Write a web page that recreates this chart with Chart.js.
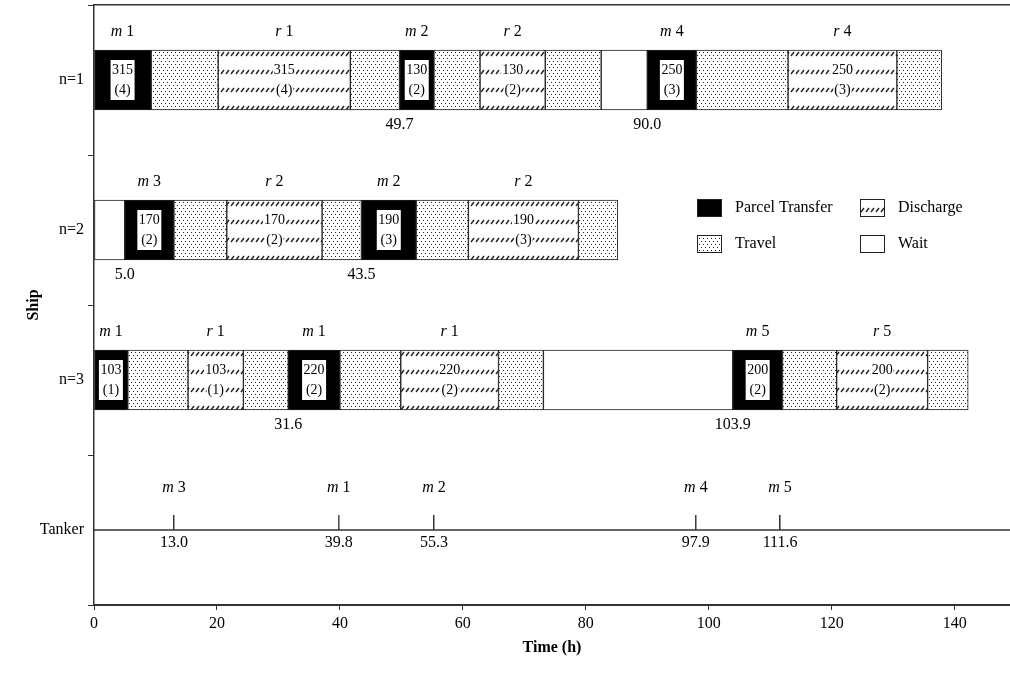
<!DOCTYPE html>
<html>
<head>
<meta charset="utf-8">
<title>Ship schedule</title>
<script src="https://cdn.jsdelivr.net/npm/chart.js@4.4.1/dist/chart.umd.min.js"></script>
<style>
  html, body { margin: 0; padding: 0; background: #fff; }
  canvas { display: block; }
</style>
</head>
<body>
<canvas id="chart" width="1010" height="673"></canvas>
<script>
const rowLabels = ['n=1', 'n=2', 'n=3', 'Tanker'];
const xTicks = [0, 20, 40, 60, 80, 100, 120, 140];
const xMax = 149;

// activity codes: P = parcel transfer, T = travel, D = discharge, W = wait
const ship1Bounds = [0, 9.3, 20.2, 41.7, 49.7, 55.3, 62.8, 73.4, 82.5, 90.0, 98.0, 112.9, 130.6, 137.9];
const ship1Acts = ['P', 'T', 'D', 'T', 'P', 'T', 'D', 'T', 'W', 'P', 'T', 'D', 'T'];
const ship1Tags = ['m 1', '', 'r 1', '', 'm 2', '', 'r 2', '', '', 'm 4', '', 'r 4', ''];
const ship1Loads = [315, null, 315, null, 130, null, 130, null, null, 250, null, 250, null];
const ship1Parcels = [4, null, 4, null, 2, null, 2, null, null, 3, null, 3, null];
const ship1Marks = [49.7, 90.0];

const ship2Bounds = [0, 5.0, 13.0, 21.6, 37.1, 43.5, 52.4, 60.9, 78.8, 85.2];
const ship2Acts = ['W', 'P', 'T', 'D', 'T', 'P', 'T', 'D', 'T'];
const ship2Tags = ['', 'm 3', '', 'r 2', '', 'm 2', '', 'r 2', ''];
const ship2Loads = [null, 170, null, 170, null, 190, null, 190, null];
const ship2Parcels = [null, 2, null, 2, null, 3, null, 3, null];
const ship2Marks = [5.0, 43.5];

const ship3Bounds = [0, 5.5, 15.3, 24.3, 31.6, 40.0, 49.9, 65.8, 73.1, 103.9, 112.0, 120.8, 135.6, 142.2];
const ship3Acts = ['P', 'T', 'D', 'T', 'P', 'T', 'D', 'T', 'W', 'P', 'T', 'D', 'T'];
const ship3Tags = ['m 1', '', 'r 1', '', 'm 1', '', 'r 1', '', '', 'm 5', '', 'r 5', ''];
const ship3Loads = [103, null, 103, null, 220, null, 220, null, null, 200, null, 200, null];
const ship3Parcels = [1, null, 1, null, 2, null, 2, null, null, 2, null, 2, null];
const ship3Marks = [31.6, 103.9];

const tankerTimes = [13.0, 39.8, 55.3, 97.9, 111.6];
const tankerTags = ['m 3', 'm 1', 'm 2', 'm 4', 'm 5'];

const ships = [
    { bounds: ship1Bounds, acts: ship1Acts, tags: ship1Tags, loads: ship1Loads, parcels: ship1Parcels, marks: ship1Marks },
    { bounds: ship2Bounds, acts: ship2Acts, tags: ship2Tags, loads: ship2Loads, parcels: ship2Parcels, marks: ship2Marks },
    { bounds: ship3Bounds, acts: ship3Acts, tags: ship3Tags, loads: ship3Loads, parcels: ship3Parcels, marks: ship3Marks }
];

const BAR = 60;
const serif = '"Liberation Serif", "Times New Roman", serif';
Chart.defaults.font.family = serif;
Chart.defaults.color = '#000';

// --- fill patterns ---
function makeTile(w, h, draw) {
    const c = document.createElement('canvas');
    c.width = w;
    c.height = h;
    const g = c.getContext('2d');
    g.fillStyle = '#fff';
    g.fillRect(0, 0, w, h);
    draw(g);
    return c;
}

const dotTile = makeTile(4, 6, g => {
    g.fillStyle = '#222';
    g.fillRect(1, 1, 1, 1);
    g.fillRect(3, 4, 1, 1);
});

const hatchTile = makeTile(5, 18, g => {
    g.strokeStyle = '#222';
    g.lineWidth = 1.4;
    g.beginPath();
    g.moveTo(1, 6);
    g.lineTo(4, 2);
    g.stroke();
});

const patCtx = document.createElement('canvas').getContext('2d');
const dotPattern = patCtx.createPattern(dotTile, 'repeat');

function hatchAt(top) {
    const p = patCtx.createPattern(hatchTile, 'repeat');
    p.setTransform(new DOMMatrix().translate(0, top));
    return p;
}

function hatchFor(c) {
    if (c.raw && c.chart.scales && c.chart.scales.y) {
        return hatchAt(c.chart.scales.y.getPixelForValue(c.raw.y) - BAR / 2);
    }
    return hatchAt(0);
}

// tanker call tick: upper half of the image is the mark, lower half empty
const tickMark = (() => {
    const c = document.createElement('canvas');
    c.width = 2;
    c.height = 30;
    const g = c.getContext('2d');
    g.fillStyle = '#333';
    g.fillRect(0, 0, 1.5, 15);
    return c;
})();

const activityStyles = {
    P: { label: 'Parcel Transfer', fill: '#000' },
    D: { label: 'Discharge', fill: hatchFor },
    T: { label: 'Travel', fill: dotPattern },
    W: { label: 'Wait', fill: '#fff' }
};

function segmentsOf(code) {
    const out = [];
    ships.forEach((s, i) => {
        s.acts.forEach((a, k) => {
            if (a === code) out.push({ x: [s.bounds[k], s.bounds[k + 1]], y: i + 0.5 });
        });
    });
    return out;
}

const tankerRow = rowLabels.indexOf('Tanker') + 0.5;

const barSets = ['P', 'D', 'T', 'W'].map(code => ({
    type: 'bar',
    label: activityStyles[code].label,
    code: code,
    data: segmentsOf(code),
    backgroundColor: activityStyles[code].fill,
    borderColor: '#222',
    borderWidth: 1,
    borderSkipped: false,
    barThickness: BAR,
    grouped: false
}));

// --- text on and around the bars ---
function drawTag(ctx, tag, xc, yc) {
    const parts = tag.split(' ');
    ctx.font = 'italic 16px ' + serif;
    const w1 = ctx.measureText(parts[0]).width;
    ctx.font = '16px ' + serif;
    const w2 = ctx.measureText(' ' + parts[1]).width;
    const x0 = xc - (w1 + w2) / 2;
    ctx.textAlign = 'left';
    ctx.textBaseline = 'middle';
    ctx.fillStyle = '#000';
    ctx.font = 'italic 16px ' + serif;
    ctx.fillText(parts[0], x0, yc);
    ctx.font = '16px ' + serif;
    ctx.fillText(' ' + parts[1], x0 + w1, yc);
}

function drawLoad(ctx, load, parcels, xc, yc, boxed) {
    const l1 = String(load);
    const l2 = '(' + parcels + ')';
    ctx.font = '14px ' + serif;
    const w1 = ctx.measureText(l1).width;
    const w2 = ctx.measureText(l2).width;
    ctx.fillStyle = '#fff';
    if (boxed) {
        const w = Math.max(w1, w2) + 3;
        ctx.fillRect(xc - w / 2, yc - 20, w, 40);
    } else {
        ctx.fillRect(xc - w1 / 2 - 1, yc - 17, w1 + 2, 15);
        ctx.fillRect(xc - w2 / 2 - 1, yc + 3, w2 + 2, 15);
    }
    ctx.fillStyle = '#000';
    ctx.textAlign = 'center';
    ctx.textBaseline = 'middle';
    ctx.fillText(l1, xc, yc - 10);
    ctx.fillText(l2, xc, yc + 10);
}

const annotate = {
    id: 'annotate',
    afterDatasetsDraw(chart) {
        const { ctx, scales: { x, y } } = chart;
        ctx.save();
        ships.forEach((s, i) => {
            const yc = y.getPixelForValue(i + 0.5);
            for (let k = 0; k < s.acts.length; k++) {
                const xc = (x.getPixelForValue(s.bounds[k]) + x.getPixelForValue(s.bounds[k + 1])) / 2;
                if (s.tags[k]) drawTag(ctx, s.tags[k], xc, yc - BAR / 2 - 18);
                if (s.loads[k] != null) drawLoad(ctx, s.loads[k], s.parcels[k], xc, yc, s.acts[k] === 'P');
            }
            ctx.font = '16px ' + serif;
            ctx.fillStyle = '#000';
            ctx.textAlign = 'center';
            ctx.textBaseline = 'middle';
            s.marks.forEach(m => ctx.fillText(m.toFixed(1), x.getPixelForValue(m), yc + BAR / 2 + 15));
        });
        const ty = y.getPixelForValue(tankerRow);
        tankerTimes.forEach((t, i) => {
            const tx = x.getPixelForValue(t);
            drawTag(ctx, tankerTags[i], tx, ty - 42);
            ctx.font = '16px ' + serif;
            ctx.textAlign = 'center';
            ctx.fillText(t.toFixed(1), tx, ty + 13);
        });
        ctx.restore();
    }
};

const keyBox = {
    id: 'keyBox',
    afterDraw(chart) {
        const { ctx, chartArea } = chart;
        const left = chartArea.left + 603;
        const top = chartArea.top + 194;
        ctx.save();
        chart.data.datasets.filter(d => d.type === 'bar').forEach((d, i) => {
            const sx = left + (i % 2) * 163;
            const sy = top + Math.floor(i / 2) * 36;
            if (d.code === 'D') ctx.fillStyle = hatchAt(sy + 7);
            else ctx.fillStyle = d.backgroundColor;
            ctx.fillRect(sx, sy, 25, 18);
            ctx.strokeStyle = '#222';
            ctx.lineWidth = 1;
            ctx.strokeRect(sx + 0.5, sy + 0.5, 24, 17);
            ctx.fillStyle = '#000';
            ctx.font = '16px ' + serif;
            ctx.textAlign = 'left';
            ctx.textBaseline = 'middle';
            ctx.fillText(d.label, sx + 38, sy + 9);
        });
        ctx.restore();
    }
};

const yTickValues = [];
for (let i = 0; i <= rowLabels.length; i++) {
    yTickValues.push(i);
    if (i < rowLabels.length) yTickValues.push(i + 0.5);
}

new Chart(document.getElementById('chart'), {
    type: 'bar',
    data: {
        datasets: [
            ...barSets,
            {
                type: 'line',
                label: 'Tanker',
                data: [{ x: 0, y: tankerRow }, { x: xMax, y: tankerRow }],
                borderColor: '#333',
                borderWidth: 1.5,
                pointRadius: 0
            },
            {
                type: 'line',
                label: 'Tanker calls',
                data: tankerTimes.map(t => ({ x: t, y: tankerRow })),
                showLine: false,
                pointStyle: tickMark,
                pointRadius: 8
            }
        ]
    },
    options: {
        indexAxis: 'y',
        responsive: false,
        devicePixelRatio: 1,
        animation: false,
        layout: { padding: 0, autoPadding: false },
        plugins: {
            legend: { display: false },
            tooltip: { enabled: false }
        },
        scales: {
            x: {
                type: 'linear',
                position: 'bottom',
                min: 0,
                max: xMax,
                afterBuildTicks: s => { s.ticks = xTicks.map(v => ({ value: v })); },
                afterFit: s => { s.height = 68; s.paddingLeft = 0; s.paddingRight = 0; },
                ticks: { font: { size: 16 }, color: '#000', padding: 4, maxRotation: 0, autoSkip: false },
                grid: { drawOnChartArea: false, tickLength: 5, color: '#333' },
                border: { color: '#333', width: 2 },
                title: {
                    display: true,
                    text: 'Time (h)',
                    font: { size: 16, weight: 'bold' },
                    color: '#000',
                    padding: { top: 4, bottom: 16 }
                }
            },
            xTop: {
                type: 'linear',
                axis: 'x',
                position: 'top',
                min: 0,
                max: xMax,
                ticks: { display: false },
                grid: { drawOnChartArea: false, drawTicks: false },
                border: { color: '#333', width: 1.5 },
                afterFit: s => { s.height = 5; s.paddingLeft = 0; s.paddingRight = 0; }
            },
            y: {
                type: 'linear',
                min: 0,
                max: rowLabels.length,
                reverse: true,
                offset: false,
                afterBuildTicks: s => { s.ticks = yTickValues.map(v => ({ value: v })); },
                afterFit: s => { s.width = 94; s.paddingTop = 0; s.paddingBottom = 0; },
                ticks: {
                    autoSkip: false,
                    font: { size: 16 },
                    color: '#000',
                    padding: 4,
                    callback: v => (v % 1 ? rowLabels[Math.floor(v)] : '')
                },
                grid: {
                    drawOnChartArea: false,
                    offset: false,
                    tickLength: 6,
                    color: c => (c.tick && c.tick.value % 1 === 0 ? '#333' : 'rgba(0,0,0,0)')
                },
                border: { color: '#333', width: 1.5 },
                title: {
                    display: true,
                    text: 'Ship',
                    font: { size: 16, weight: 'bold' },
                    color: '#000',
                    padding: { top: 24, bottom: 0 }
                }
            }
        }
    },
    plugins: [annotate, keyBox]
});
</script>
</body>
</html>
